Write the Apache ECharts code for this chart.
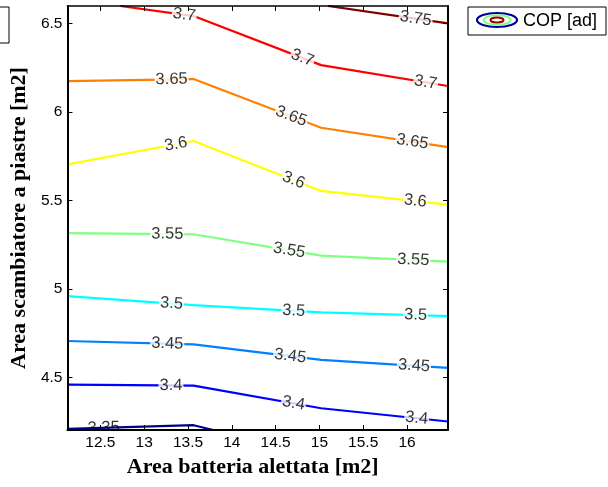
<!DOCTYPE html>
<html><head><meta charset="utf-8">
<script src="https://cdn.jsdelivr.net/npm/echarts@6/dist/echarts.min.js"></script>
<style>html,body{margin:0;padding:0;background:#fff}#c{width:608px;height:487px}</style>
</head><body><div id="c"></div>
<script>
// ---- data ----
const xTicks = [12.5, 13, 13.5, 14, 14.5, 15, 15.5, 16];
const yTicks = [4.5, 5, 5.5, 6, 6.5];
const xRange = [12.124, 16.468];
const yRange = [4.202, 6.598];
const levels = [3.35, 3.4, 3.45, 3.5, 3.55, 3.6, 3.65, 3.7, 3.75];
const levelColors = ['#00008f', '#0000ff', '#0080ff', '#00ffff', '#80ff80', '#ffff00', '#ff8000', '#ff0000', '#800000'];
const line335 = [[12.124, 4.208], [13.564, 4.229], [13.788, 4.202]];
const line340 = [[12.124, 4.458], [13.564, 4.453], [15.02, 4.325], [16.468, 4.250]];
const line345 = [[12.124, 4.705], [13.564, 4.686], [15.02, 4.598], [16.468, 4.553]];
const line350 = [[12.124, 4.959], [13.564, 4.908], [15.02, 4.867], [16.468, 4.846]];
const line355 = [[12.124, 5.314], [13.564, 5.308], [15.02, 5.187], [16.468, 5.154]];
const line360 = [[12.124, 5.703], [13.564, 5.835], [15.02, 5.553], [16.468, 5.476]];
const line365 = [[12.124, 6.174], [13.564, 6.185], [15.02, 5.910], [16.468, 5.801]];
const line370 = [[12.728, 6.598], [13.564, 6.541], [15.02, 6.264], [16.468, 6.146]];
const line375 = [[15.10, 6.598], [16.468, 6.5]];
// x positions where the level labels sit along each line
const labels335 = [12.538];
const labels340 = [13.306, 14.704, 16.111];
const labels345 = [13.264, 14.666, 16.080];
const labels350 = [13.313, 14.708, 16.099];
const labels355 = [13.264, 14.655, 16.072];
const labels360 = [13.363, 14.704, 16.095];
const labels365 = [13.313, 14.678, 16.061];
const labels370 = [13.458, 14.806, 16.213];
const labels375 = [16.099];

const lines = [line335, line340, line345, line350, line355, line360, line365, line370, line375];
const labelXs = [labels335, labels340, labels345, labels350, labels355, labels360, labels365, labels370, labels375];

const FONT = "'Liberation Sans', Arial, sans-serif";
const SERIF = "'Liberation Serif', 'Times New Roman', serif";

const chart = echarts.init(document.getElementById('c'), null, {renderer: 'canvas'});

const axisCommon = {
  type: 'value',
  splitLine: {show: false},
  axisLine: {show: true, onZero: false, lineStyle: {color: '#000', width: 2}},
  z: 10
};

const lineSeries = lines.map((pts, i) => ({
  type: 'line',
  xAxisIndex: 0, yAxisIndex: 0,
  data: pts,
  showSymbol: false,
  symbol: 'none',
  clip: true,
  animation: false,
  lineStyle: {color: levelColors[i], width: 2.2},
  z: 2
}));

const option = {
  animation: false,
  grid: {left: 67, top: 6, right: 160, bottom: 57, containLabel: false},
  xAxis: [
    Object.assign({}, axisCommon, {
      position: 'bottom', min: xRange[0], max: xRange[1],
      axisTick: {show: true, inside: true, length: 5, customValues: xTicks, lineStyle: {color: '#000', width: 1}},
      axisLabel: {customValues: xTicks, color: '#000', fontFamily: FONT, fontSize: 15.5, margin: 5,
        formatter: v => String(v)},
      name: 'Area batteria alettata [m2]', nameLocation: 'middle', nameGap: 26,
      nameTextStyle: {fontFamily: SERIF, fontWeight: 'bold', fontSize: 22, color: '#000', padding: [0, 10, 0, 0]}
    }),
    Object.assign({}, axisCommon, {
      position: 'top', min: xRange[0], max: xRange[1],
      axisLine: {show: true, onZero: false, lineStyle: {color: '#000', width: 1.5}},
      axisTick: {show: true, inside: true, length: 5, customValues: xTicks, lineStyle: {color: '#000', width: 1}},
      axisLabel: {show: false}
    })
  ],
  yAxis: [
    Object.assign({}, axisCommon, {
      position: 'left', min: yRange[0], max: yRange[1],
      axisTick: {show: true, inside: true, length: 5, customValues: yTicks, lineStyle: {color: '#000', width: 1}},
      axisLabel: {customValues: yTicks, color: '#000', fontFamily: FONT, fontSize: 15.5, margin: 5,
        formatter: v => String(v)},
      name: 'Area scambiatore a piastre [m2]', nameLocation: 'middle', nameGap: 23, nameRotate: 90,
      nameTextStyle: {fontFamily: SERIF, fontWeight: 'bold', fontSize: 22, color: '#000'}
    }),
    Object.assign({}, axisCommon, {
      position: 'right', min: yRange[0], max: yRange[1],
      axisTick: {show: true, inside: true, length: 5, customValues: yTicks, lineStyle: {color: '#000', width: 1}},
      axisLabel: {show: false}
    })
  ],
  series: lineSeries,
  graphic: [
    // white cover below plot to clip labels at the bottom border
    {type: 'rect', z: 5, silent: true, shape: {x: 60, y: 431, width: 400, height: 56}, style: {fill: '#fff'}},
    // partial box at top-left
    {type: 'rect', z: 1, shape: {x: -10, y: 7, width: 19, height: 36}, style: {fill: '#fff', stroke: '#000', lineWidth: 1}},
    // legend box
    {type: 'rect', z: 1, shape: {x: 468, y: 7, width: 138, height: 28}, style: {fill: '#fff', stroke: '#000', lineWidth: 1}},
    {type: 'ellipse', z: 2, shape: {cx: 497, cy: 20, rx: 20, ry: 7}, style: {fill: 'none', stroke: '#0000a0', lineWidth: 2.2}},
    {type: 'ellipse', z: 2, shape: {cx: 497, cy: 20, rx: 13.5, ry: 4.8}, style: {fill: 'none', stroke: '#80ff80', lineWidth: 2}},
    {type: 'ellipse', z: 2, shape: {cx: 497, cy: 20, rx: 6.5, ry: 2.5}, style: {fill: 'none', stroke: '#a00000', lineWidth: 2}},
    {type: 'text', z: 2, style: {x: 523, y: 21, text: 'COP [ad]', font: '18px ' + FONT, fill: '#000', textVerticalAlign: 'middle'}}
  ]
};
chart.setOption(option);

// place level labels along the lines
function interpY(pts, x) {
  for (let k = 0; k < pts.length - 1; k++) {
    const a = pts[k], b = pts[k + 1];
    if (x >= Math.min(a[0], b[0]) && x <= Math.max(a[0], b[0])) {
      const t = (x - a[0]) / (b[0] - a[0]);
      return {y: a[1] + t * (b[1] - a[1]), a, b};
    }
  }
  return {y: pts[0][1], a: pts[0], b: pts[1]};
}
const labelSeries = lines.map((pts, i) => {
  const data = labelXs[i].map(x => {
    const r = interpY(pts, x);
    const pa = chart.convertToPixel({gridIndex: 0}, r.a);
    const pb = chart.convertToPixel({gridIndex: 0}, r.b);
    const ang = -Math.atan2(pb[1] - pa[1], pb[0] - pa[0]) * 180 / Math.PI;
    return {value: [x, r.y], label: {rotate: ang}};
  });
  return {
    type: 'scatter', xAxisIndex: 0, yAxisIndex: 0,
    data, symbolSize: 0, silent: true, z: 3, clip: false,
    label: {show: true, position: 'inside', formatter: () => String(levels[i]),
      color: '#000', fontFamily: FONT, fontSize: 16.5,
      backgroundColor: i === 0 ? 'transparent' : '#fff', padding: [0, 1]}
  };
});
chart.setOption({series: lineSeries.concat(labelSeries)});
</script>
</body></html>
